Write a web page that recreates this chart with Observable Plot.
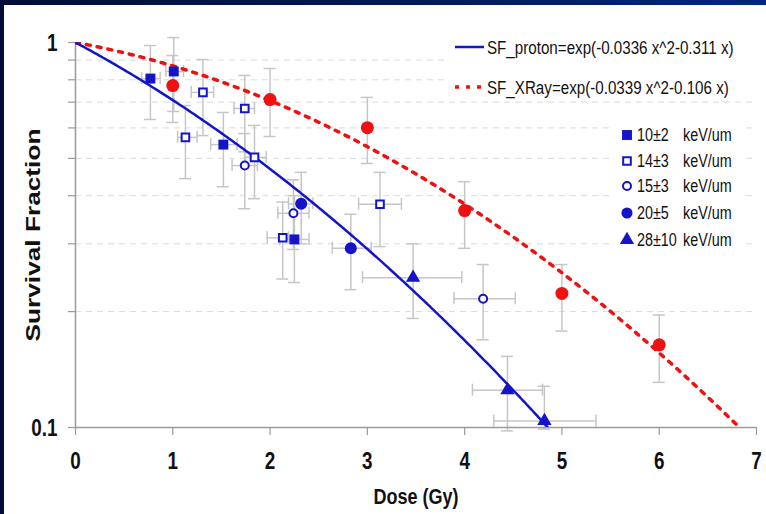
<!DOCTYPE html>
<html>
<head>
<meta charset="utf-8">
<script src="https://cdn.jsdelivr.net/npm/d3@7"></script>
<script src="https://cdn.jsdelivr.net/npm/@observablehq/plot@0.6"></script>
<style>
  html, body { margin: 0; padding: 0; }
  body {
    width: 766px; height: 514px; overflow: hidden; position: relative;
    background: linear-gradient(90deg, #000c38 0%, #001a58 55%, #002878 100%);
    font-family: "Liberation Sans", Arial, sans-serif;
  }
  #chart { position: absolute; left: 4px; top: 5px; width: 762px; height: 509px; background: #fff; }
  #chart svg { display: block; }
</style>
</head>
<body>
<div id="chart"></div>
<script>
// Linear-quadratic fits: SF = exp(-beta*D^2 - alpha*D)
const fitNames = ["SF_proton", "SF_XRay"];
const fitAlpha = [0.311, 0.106];
const fitBeta = [0.0336, 0.0339];

// Proton LET groups (keV/um)
const letValues = ["10±2", "14±3", "15±3", "20±5", "28±10"];
const letUnit = "keV/um";

// Proton measurements: LET group index, dose (Gy) with range, survival fraction with range
const protonGroup  = [0, 0, 0, 0,   1, 1, 1, 1, 1, 1,   2, 2, 2,   3, 3,   4, 4, 4];
const protonDose   = [0.77, 1.01, 1.52, 2.25,  1.13, 1.31, 1.74, 1.84, 2.13, 3.13,  1.74, 2.24, 4.19,  2.32, 2.83,  3.47, 4.44, 4.82];
const protonDoseLo = [0.68, 0.93, 1.39, 2.10,  1.05, 1.19, 1.63, 1.74, 1.97, 2.91,  1.61, 2.08, 3.89,  2.19, 2.64,  2.95, 4.08, 4.30];
const protonDoseHi = [0.87, 1.11, 1.66, 2.40,  1.25, 1.42, 1.84, 1.96, 2.19, 3.35,  1.87, 2.40, 4.52,  2.44, 3.04,  3.97, 4.80, 5.35];
const protonSF     = [0.806, 0.841, 0.543, 0.308,  0.567, 0.742, 0.674, 0.503, 0.311, 0.380,  0.479, 0.360, 0.216,  0.381, 0.292,  0.245, 0.125, 0.104];
const protonSFLo   = [0.631, 0.662, 0.422, 0.238,  0.443, 0.573, 0.520, 0.393, 0.243, 0.295,  0.370, 0.290, 0.169,  0.300, 0.228,  0.192, 0.098, 0.099];
const protonSFHi   = [0.982, 1.030, 0.658, 0.400,  0.686, 0.903, 0.821, 0.609, 0.385, 0.460,  0.580, 0.440, 0.265,  0.460, 0.358,  0.300, 0.153, 0.128];

// X-ray measurements
const xrayDose = [1, 2, 3, 4, 5, 6];
const xraySF   = [0.773, 0.711, 0.601, 0.366, 0.223, 0.164];
const xraySFLo = [0.620, 0.570, 0.485, 0.292, 0.178, 0.131];
const xraySFHi = [0.925, 0.856, 0.720, 0.435, 0.265, 0.196];

// Axis ticks
const doseTicks = [0, 1, 2, 3, 4, 5, 6, 7];
const sfLabelTicks = [1, 0.1];
const sfMinorTicks = [0.2, 0.3, 0.4, 0.5, 0.6, 0.7, 0.8, 0.9];

const BLUE = "#1414c8";
const RED = "#ee1111";
const GREY = "#c6c6c6";
const FONT = "Liberation Sans, Arial, sans-serif";

// Fitted curve, sampled from D = 0 up to the dose where SF reaches the 0.1 floor
function fitCurve(k) {
  const a = fitAlpha[k], b = fitBeta[k];
  const dEnd = (-a + Math.sqrt(a * a + 4 * b * Math.LN10)) / (2 * b);
  const pts = d3.range(0, dEnd, 0.02).map(d => ({dose: d, sf: Math.exp(-b * d * d - a * d)}));
  pts.push({dose: dEnd, sf: 0.1});
  return pts;
}

const pIdx = d3.range(protonDose.length);
const xIdx = d3.range(xrayDose.length);
const inGroup = g => pIdx.filter(i => protonGroup[i] === g);

function errorBars(idx, dose, sf, lo, hi, dLo, dHi) {
  const marks = [
    Plot.ruleX(idx, {x: i => dose[i], y1: i => lo[i], y2: i => hi[i], stroke: GREY, strokeWidth: 1.5}),
    Plot.ruleY(idx, {y: i => lo[i], x1: i => dose[i], x2: i => dose[i], insetLeft: -6, insetRight: -6, stroke: GREY, strokeWidth: 1.5}),
    Plot.ruleY(idx, {y: i => hi[i], x1: i => dose[i], x2: i => dose[i], insetLeft: -6, insetRight: -6, stroke: GREY, strokeWidth: 1.5})
  ];
  if (dLo) {
    marks.push(
      Plot.ruleY(idx, {y: i => sf[i], x1: i => dLo[i], x2: i => dHi[i], stroke: GREY, strokeWidth: 1.5}),
      Plot.ruleX(idx, {x: i => dLo[i], y1: i => sf[i], y2: i => sf[i], insetTop: -6, insetBottom: -6, stroke: GREY, strokeWidth: 1.5}),
      Plot.ruleX(idx, {x: i => dHi[i], y1: i => sf[i], y2: i => sf[i], insetTop: -6, insetBottom: -6, stroke: GREY, strokeWidth: 1.5})
    );
  }
  return marks;
}

const groupStyle = [
  {symbol: "square", r: 5.6, fill: BLUE, stroke: "none", strokeWidth: 0},
  {symbol: "square", r: 4.3, fill: "#fff", stroke: BLUE, strokeWidth: 2},
  {symbol: "circle", r: 4, fill: "#fff", stroke: BLUE, strokeWidth: 2},
  {symbol: "circle", r: 6, fill: BLUE, stroke: "none", strokeWidth: 0},
  {symbol: "triangle", r: 5.3, fill: BLUE, stroke: "none", strokeWidth: 0}
];

const chart = Plot.plot({
  width: 762,
  height: 509,
  marginLeft: 71,
  marginRight: 10,
  marginTop: 37,
  marginBottom: 87,
  style: {background: "transparent", overflow: "visible"},
  x: {domain: [0, 7], axis: null},
  y: {type: "log", domain: [0.1, 1], axis: null},
  marks: [
    // dashed minor grid
    Plot.ruleY(sfMinorTicks, {stroke: "#dadada", strokeWidth: 1, strokeDasharray: "6,5"}),
    // error bars
    ...errorBars(pIdx, protonDose, protonSF, protonSFLo, protonSFHi, protonDoseLo, protonDoseHi),
    ...errorBars(xIdx, xrayDose, xraySF, xraySFLo, xraySFHi),
    // axes and ticks
    Plot.ruleX([0], {stroke: "#9a9a9a", strokeWidth: 1.5}),
    Plot.ruleY([0.1], {stroke: "#9a9a9a", strokeWidth: 1.5}),
    Plot.ruleY([...sfLabelTicks, ...sfMinorTicks], {x1: () => 0, x2: () => 0, insetLeft: -7, stroke: "#9a9a9a", strokeWidth: 1.2}),
    Plot.ruleX(doseTicks, {y1: () => 0.1, y2: () => 0.1, insetBottom: -8, stroke: "#9a9a9a", strokeWidth: 1.2}),
    // fitted curves
    Plot.line(fitCurve(1), {x: "dose", y: "sf", stroke: RED, strokeWidth: 3.5, strokeDasharray: "4,7", clip: true}),
    Plot.line(fitCurve(0), {x: "dose", y: "sf", stroke: BLUE, strokeWidth: 2.5, clip: true}),
    // measured points
    Plot.dot(xIdx, {x: i => xrayDose[i], y: i => xraySF[i], r: 6.5, fill: RED, symbol: "circle"}),
    ...groupStyle.map((s, g) => Plot.dot(inGroup(g), {x: i => protonDose[i], y: i => protonSF[i], ...s})),
    // tick labels
    Plot.text(doseTicks, {x: d => d, y: () => 0.1, dy: 34, text: d => String(d), fontSize: 23, fontWeight: "bold", fontFamily: FONT, fill: "#111"}),
    Plot.text(sfLabelTicks, {x: () => 0, y: d => d, dx: -18, dy: 1, textAnchor: "end", text: d => String(d), fontSize: 23, fontWeight: "bold", fontFamily: FONT, fill: "#111"}),
    // axis titles
    Plot.text(["Survival Fraction"], {frameAnchor: "left", dx: -42, rotate: -90, textAnchor: "middle", lineAnchor: "middle", fontSize: 21, fontWeight: "bold", fontFamily: FONT, fill: "#111"}),
    Plot.text(["Dose (Gy)"], {frameAnchor: "bottom", dy: 69, textAnchor: "middle", lineAnchor: "middle", fontSize: 22, fontWeight: "bold", fontFamily: FONT, fill: "#111"})
  ]
});

document.getElementById("chart").appendChild(chart);

// Legend (coordinates relative to the page corner)
const svg = d3.select(chart);
const leg = svg.append("g").attr("transform", "translate(-4,-5)")
  .attr("font-family", FONT).attr("fill", "#111").attr("text-anchor", "start");
leg.append("rect").attr("x", 448).attr("y", 30).attr("width", 314).attr("height", 68).attr("fill", "#fff");
leg.append("rect").attr("x", 614).attr("y", 120).attr("width", 132).attr("height", 134).attr("fill", "#fff");

const fitLabel = k => `${fitNames[k]}=exp(-${fitBeta[k]} x^2-${fitAlpha[k]} x)`;
leg.append("line").attr("x1", 455).attr("x2", 484).attr("y1", 47).attr("y2", 47)
  .attr("stroke", BLUE).attr("stroke-width", 2.5);
leg.append("text").attr("x", 487).attr("y", 54).attr("font-size", 18.5).text(fitLabel(0));
leg.append("line").attr("x1", 455).attr("x2", 484).attr("y1", 87).attr("y2", 87)
  .attr("stroke", RED).attr("stroke-width", 3.5).attr("stroke-dasharray", "4,7");
leg.append("text").attr("x", 487).attr("y", 94).attr("font-size", 18.5).text(fitLabel(1));

const rowY = [135, 161, 186, 213, 240];
const symbolType = {square: d3.symbolSquare, circle: d3.symbolCircle, triangle: d3.symbolTriangle};
letValues.forEach((v, g) => {
  const s = groupStyle[g];
  const sizeScale = g === 3 ? 0.85 : 1;
  leg.append("path")
    .attr("transform", `translate(627,${rowY[g]})`)
    .attr("d", d3.symbol(symbolType[s.symbol], Math.PI * s.r * s.r * sizeScale)())
    .attr("fill", s.fill).attr("stroke", s.stroke).attr("stroke-width", s.strokeWidth);
  leg.append("text").attr("x", 637).attr("y", rowY[g] + 6).attr("font-size", 17.5).text(v);
  leg.append("text").attr("x", 683).attr("y", rowY[g] + 6).attr("font-size", 17.5).text(letUnit);
});

// Condensed lettering: horizontal text narrowed, the rotated title lengthened,
// each scaled about its own anchor point (unit-bearing offsets such as "0.32em" stay put)
const plain = v => v != null && /^-?\d*\.?\d+$/.test(v.trim());
svg.selectAll("text").each(function () {
  const t = this.getAttribute("transform") || "";
  const k = /rotate/.test(t) ? 1.25 : 0.82;
  const ax = this.getAttribute("x"), ay = this.getAttribute("y");
  let x = 0, y = 0;
  if (plain(ax)) { x = +ax; this.removeAttribute("x"); }
  if (plain(ay)) { y = +ay; this.removeAttribute("y"); }
  this.setAttribute("transform", `${t} translate(${x},${y}) scale(${k},1)`.trim());
});
</script>
</body>
</html>
